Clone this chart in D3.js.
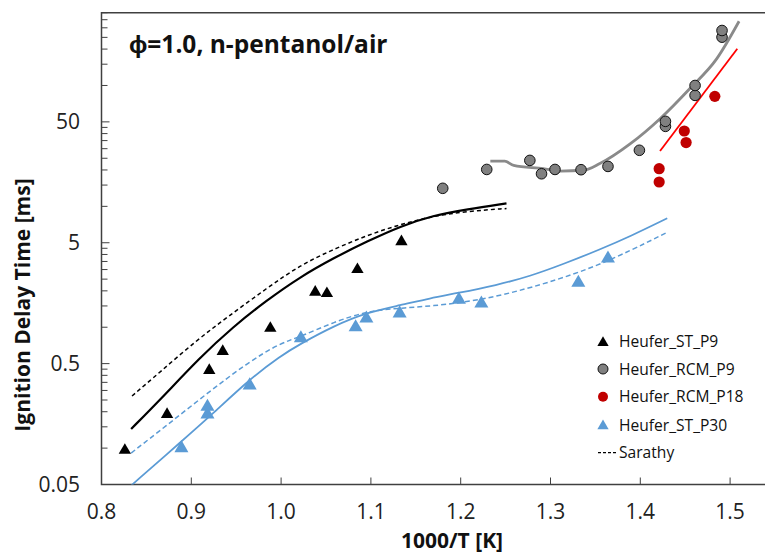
<!DOCTYPE html>
<html><head><meta charset="utf-8">
<script src="https://cdnjs.cloudflare.com/ajax/libs/d3/7.8.5/d3.min.js"></script>
<style>body{margin:0;background:#fff}svg{display:block}text{font-family:"Open Sans",sans-serif}</style>
</head><body><svg id="c" width="765" height="553"></svg>
<script>
// ---- data ----
const stP9 = [[0.826,0.096],[0.873,0.19],[0.920,0.44],[0.935,0.63],[0.988,0.98],[1.038,1.95],[1.051,1.9],[1.085,3.0],[1.134,5.1]];
const rcmP9 = [[1.180,14.1],[1.229,20.2],[1.277,24],[1.290,18.6],[1.305,20.2],[1.334,20.1],[1.364,21.4],[1.399,29.1],[1.428,45.9],[1.428,50.5],[1.461,82.8],[1.461,100],[1.491,251],[1.491,285]];
const rcmP18 = [[1.421,20.5],[1.421,15.9],[1.449,42],[1.451,33.7],[1.483,81.3]];
const stP30 = [[0.889,0.1],[0.918,0.19],[0.918,0.22],[0.965,0.33],[1.022,0.81],[1.083,1.0],[1.095,1.18],[1.132,1.3],[1.198,1.69],[1.223,1.57],[1.331,2.33],[1.364,3.7]];
const modelP9 = [[0.833,0.144],[0.865,0.25],[0.910,0.566],[0.946,1.0],[0.984,1.67],[1.021,2.6],[1.058,3.72],[1.096,5.14],[1.133,6.85],[1.169,8.4],[1.207,9.46],[1.251,10.6]];
const sarathyP9 = [[0.834,0.27],[0.865,0.425],[0.906,0.78],[0.940,1.21],[0.984,2.1],[1.021,3.26],[1.058,4.4],[1.096,5.77],[1.133,7.1],[1.169,8.3],[1.207,9.1],[1.251,9.6]];
const modelP30 = [[0.833,0.049],[0.891,0.117],[0.921,0.184],[0.965,0.372],[0.999,0.577],[1.021,0.725],[1.058,1.02],[1.096,1.33],[1.133,1.52],[1.166,1.74],[1.196,1.91],[1.240,2.23],[1.277,2.64],[1.314,3.32],[1.355,4.4],[1.389,5.66],[1.430,7.97]];
const sarathyP30 = [[0.833,0.091],[0.873,0.155],[0.918,0.285],[0.962,0.505],[0.999,0.74],[1.021,0.83],[1.058,1.1],[1.096,1.36],[1.133,1.44],[1.166,1.49],[1.222,1.67],[1.277,2.1],[1.352,3.14],[1.430,6.1]];
const modelRCM9 = [[1.233,23.7],[1.249,23.7],[1.259,21.8],[1.292,20.5],[1.311,19.6],[1.337,19.9],[1.355,22.6],[1.389,33],[1.422,53.1],[1.455,94],[1.485,166],[1.510,340]];
const modelRCM18 = [[1.422,28.7],[1.508,201]];
const xTicks = [0.8,0.9,1.0,1.1,1.2,1.3,1.4,1.5];
const yTicks = [0.05,0.5,5,50];
const legendLabels = ["Heufer_ST_P9","Heufer_RCM_P9","Heufer_RCM_P18","Heufer_ST_P30","Sarathy"];

// ---- chart ----
const svg = d3.select("#c");
const L=101.5, T=12.7, B=484.5, R=765;
const x = d3.scaleLinear().domain([0.8, 0.8+(R-L)/898]).range([L,R]);
const y = d3.scaleLog().domain([0.05,400]).range([B,T]);
const axisCol="#404040";

// minor y ticks
const minor=[];
[0.05,0.5,5,50].forEach(b=>{for(let k=2;k<=9;k++){const v=b*k; if(v<=400) minor.push(v);}});
svg.append("g").selectAll("line").data(minor).join("line")
  .attr("x1",L).attr("x2",L+6).attr("y1",d=>y(d)).attr("y2",d=>y(d))
  .attr("stroke",axisCol).attr("stroke-width",1);
svg.append("g").selectAll("line").data(yTicks).join("line")
  .attr("x1",L).attr("x2",L+8).attr("y1",d=>y(d)).attr("y2",d=>y(d))
  .attr("stroke",axisCol).attr("stroke-width",1);
svg.append("g").selectAll("text").data(yTicks).join("text")
  .attr("x",80).attr("y",d=>y(d)+7).attr("text-anchor","end")
  .attr("font-size",21).attr("fill","#222").text(d=>d);
// x ticks
svg.append("g").selectAll("line").data(xTicks).join("line")
  .attr("x1",d=>x(d)).attr("x2",d=>x(d)).attr("y1",B).attr("y2",B-7)
  .attr("stroke",axisCol).attr("stroke-width",1);
svg.append("g").selectAll("text").data(xTicks).join("text")
  .attr("x",d=>x(d)).attr("y",519).attr("text-anchor","middle")
  .attr("font-size",21).attr("fill","#222").text(d=>d.toFixed(1));
// frame
svg.append("path").attr("d",`M${R},${T}H${L}V${B}H${R}`).attr("fill","none").attr("stroke",axisCol).attr("stroke-width",1.5);

// titles
svg.append("text").attr("x",452).attr("y",548).attr("text-anchor","middle").attr("font-size",21).attr("font-weight","bold").attr("fill","#111").text("1000/T [K]");
svg.append("text").attr("transform","translate(30,305) rotate(-90)").attr("text-anchor","middle").attr("font-size",21).attr("font-weight","bold").attr("fill","#111").text("Ignition Delay Time [ms]");
svg.append("text").attr("x",129).attr("y",53).attr("font-size",24.5).attr("font-weight","bold").attr("fill","#111").text("ϕ=1.0, n-pentanol/air");

// lines
svg.append("clipPath").attr("id","pc").append("rect").attr("x",L).attr("y",T).attr("width",R-L).attr("height",B-T);
const line = d3.line().x(d=>x(d[0])).y(d=>y(d[1])).curve(d3.curveBasis);
const lineM = d3.line().x(d=>x(d[0])).y(d=>y(d[1])).curve(d3.curveMonotoneX);
const lg = svg.append("g").attr("clip-path","url(#pc)");
lg.append("path").datum(sarathyP9).attr("d",line).attr("fill","none").attr("stroke","#000").attr("stroke-width",1.5).attr("stroke-dasharray","4,3");
lg.append("path").datum(modelP9).attr("d",line).attr("fill","none").attr("stroke","#000").attr("stroke-width",2.2);
lg.append("path").datum(sarathyP30).attr("d",line).attr("fill","none").attr("stroke","#5b9bd5").attr("stroke-width",1.5).attr("stroke-dasharray","5,3");
lg.append("path").datum(modelP30).attr("d",line).attr("fill","none").attr("stroke","#5b9bd5").attr("stroke-width",1.8);
lg.append("path").datum(modelRCM9).attr("d",lineM).attr("fill","none").attr("stroke","#8a8a8a").attr("stroke-width",2.8);
lg.append("path").datum(modelRCM18).attr("d",d3.line().x(d=>x(d[0])).y(d=>y(d[1]))).attr("fill","none").attr("stroke","#ff0000").attr("stroke-width",1.8);

// markers
const triB = d3.symbol(d3.symbolTriangle,66)();
const triL = d3.symbol(d3.symbolTriangle,85)();
svg.append("g").selectAll("path").data(stP9).join("path").attr("d",triB)
  .attr("transform",d=>`translate(${x(d[0])},${y(d[1])})`).attr("fill","#000");
svg.append("g").selectAll("path").data(stP30).join("path").attr("d",triL)
  .attr("transform",d=>`translate(${x(d[0])},${y(d[1])})`).attr("fill","#5b9bd5");
svg.append("g").selectAll("circle").data(rcmP9).join("circle")
  .attr("cx",d=>x(d[0])).attr("cy",d=>y(d[1])).attr("r",5.3)
  .attr("fill","#808080").attr("stroke","#111").attr("stroke-width",1);
svg.append("g").selectAll("circle").data(rcmP18).join("circle")
  .attr("cx",d=>x(d[0])).attr("cy",d=>y(d[1])).attr("r",5.6)
  .attr("fill","#c00000");

// legend
const ly=[341.7,369,396.7,425,452.7];
const lgd = svg.append("g");
lgd.append("path").attr("d",d3.symbol(d3.symbolTriangle,55)()).attr("transform",`translate(603,${ly[0]+1})`).attr("fill","#000");
lgd.append("circle").attr("cx",603).attr("cy",ly[1]).attr("r",5).attr("fill","#808080").attr("stroke","#111").attr("stroke-width",1);
lgd.append("circle").attr("cx",603).attr("cy",ly[2]).attr("r",5).attr("fill","#c00000");
lgd.append("path").attr("d",d3.symbol(d3.symbolTriangle,55)()).attr("transform",`translate(603,${ly[3]+1})`).attr("fill","#5b9bd5");
lgd.append("line").attr("x1",598).attr("x2",618).attr("y1",ly[4]).attr("y2",ly[4]).attr("stroke","#000").attr("stroke-width",1.2).attr("stroke-dasharray","3,2");
lgd.selectAll("text").data(legendLabels).join("text")
  .attr("x",619).attr("y",(d,i)=>ly[i]+5.5).attr("font-size",15.6).attr("fill","#111").text(d=>d);
</script></body></html>
